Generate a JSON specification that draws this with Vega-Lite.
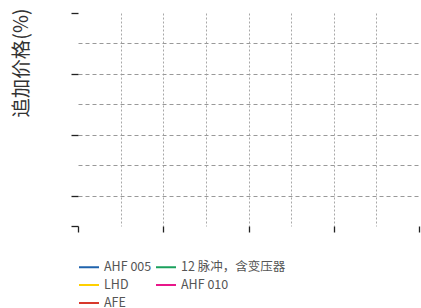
{
  "$schema": "https://vega.github.io/schema/vega-lite/v6.json",
  "width": 341,
  "height": 213,
  "autosize": "none",
  "padding": {"left": 78, "top": 13, "right": 2, "bottom": 82},
  "background": "white",
  "config": {"view": {"stroke": null}},
  "data": {
    "values": [
      {"series": "AHF 005", "x": null, "y": null},
      {"series": "LHD", "x": null, "y": null},
      {"series": "AFE", "x": null, "y": null},
      {"series": "12 脉冲，含变压器", "x": null, "y": null},
      {"series": "AHF 010", "x": null, "y": null}
    ]
  },
  "mark": {"type": "line", "strokeWidth": 2},
  "encoding": {
    "x": {
      "field": "x",
      "type": "quantitative",
      "scale": {"domain": [0, 8], "nice": false, "zero": false},
      "axis": {
        "title": null,
        "values": [0, 1, 2, 3, 4, 5, 6, 7, 8],
        "labels": false,
        "domain": false,
        "grid": true,
        "gridColor": "#a8a8a8",
        "gridDash": [2, 2],
        "gridWidth": 1,
        "gridOpacity": {"condition": {"test": "datum.value == 0 || datum.value == 8", "value": 0}, "value": 1},
        "tickOpacity": {"condition": {"test": "datum.value % 2 == 0", "value": 1}, "value": 0},
        "tickColor": "#222222",
        "tickSize": 6,
        "tickWidth": 1.3
      }
    },
    "y": {
      "field": "y",
      "type": "quantitative",
      "scale": {"domain": [0, 7], "nice": false, "zero": false},
      "axis": {
        "title": "追加价格(%)",
        "titleFont": "Noto Sans CJK SC",
        "titleFontSize": 19.5,
        "titleFontWeight": "normal",
        "titleColor": "#333333",
        "titleAlign": "right",
        "titleBaseline": "middle",
        "titleX": -57,
        "titleY": -5,
        "values": [0, 1, 2, 3, 4, 5, 6, 7],
        "labels": false,
        "domain": false,
        "grid": true,
        "gridColor": "#999999",
        "gridDash": [4, 3],
        "gridWidth": 1,
        "gridOpacity": {"condition": {"test": "datum.value == 0 || datum.value == 7", "value": 0}, "value": 1},
        "tickOpacity": {"condition": {"test": "datum.value % 2 == 1 || datum.value == 0", "value": 1}, "value": 0},
        "tickColor": "#222222",
        "tickSize": 7,
        "tickWidth": 1.3
      }
    },
    "color": {
      "field": "series",
      "type": "nominal",
      "scale": {
        "domain": ["AHF 005", "LHD", "AFE", "12 脉冲，含变压器", "AHF 010"],
        "range": ["#1f63ad", "#ffd000", "#d8382c", "#1aa05c", "#e8178a"]
      },
      "legend": {
        "title": null,
        "orient": "none",
        "legendX": 0,
        "legendY": 243,
        "columns": 2,
        "symbolType": "stroke",
        "symbolSize": 400,
        "symbolStrokeWidth": 2,
        "labelFont": "Noto Sans CJK SC",
        "labelFontSize": 12.5,
        "labelColor": "#555555",
        "labelOffset": 4,
        "columnPadding": 0,
        "rowPadding": -4.5
      }
    }
  }
}
